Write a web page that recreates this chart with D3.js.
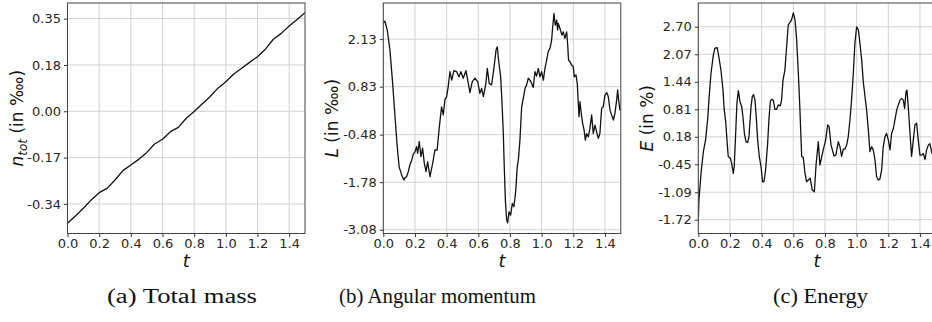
<!DOCTYPE html>
<html>
<head>
<meta charset="utf-8">
<script src="https://cdn.jsdelivr.net/npm/d3@7/dist/d3.min.js"></script>
<style>
  body { margin: 0; background: #fff; }
  svg { display: block; }
  .tick text { font-family: "DejaVu Sans", sans-serif; font-size: 13px; fill: #262626; }
  .axis path, .axis line { stroke: #333; }
  .grid line { stroke: #d2d2d2; stroke-width: 1; }
  .frame { fill: none; stroke: #444; stroke-width: 1; }
  .curve { fill: none; stroke: #111; stroke-width: 1.3; stroke-linejoin: round; }
  .lbl { font-family: "DejaVu Sans", sans-serif; font-size: 17px; fill: #111; }
  .cap { font-family: "Liberation Serif", serif; font-size: 20px; fill: #111; }
</style>
</head>
<body>
<div id="chart"></div>
<script>
// ---- data ----
var xTicks = [0, 0.2, 0.4, 0.6, 0.8, 1.0, 1.2, 1.4];

var tMass = [0, 0.05, 0.1, 0.15, 0.2, 0.25, 0.3, 0.35, 0.4, 0.45, 0.5, 0.55, 0.6, 0.65, 0.7, 0.75,
             0.8, 0.85, 0.9, 0.95, 1.0, 1.05, 1.1, 1.15, 1.2, 1.25, 1.3, 1.35, 1.4, 1.45, 1.5];
var totalMass = [-0.417, -0.390, -0.361, -0.330, -0.303, -0.287, -0.256, -0.221, -0.200, -0.179,
                 -0.154, -0.122, -0.104, -0.076, -0.060, -0.026, -0.001, 0.027, 0.054, 0.086,
                 0.110, 0.139, 0.160, 0.182, 0.203, 0.231, 0.268, 0.290, 0.317, 0.342, 0.367];
var massTicks = [-0.345, -0.1725, 0, 0.1725, 0.345];
var massTickLabels = ['-0.34', '-0.17', '0.00', '0.18', '0.35'];

var tAng = [0, 0.01, 0.025, 0.042, 0.059, 0.074, 0.088, 0.10, 0.116, 0.13, 0.136, 0.147, 0.158, 0.168,
            0.18, 0.189, 0.2, 0.21, 0.217, 0.227, 0.238, 0.248, 0.259, 0.27, 0.28, 0.295, 0.312, 0.326,
            0.34, 0.354, 0.368, 0.379, 0.389, 0.4, 0.41, 0.421, 0.432, 0.446, 0.463, 0.478, 0.49, 0.505,
            0.522, 0.537, 0.547, 0.562, 0.579, 0.596, 0.61, 0.621, 0.632, 0.648, 0.657, 0.669, 0.684,
            0.70, 0.712, 0.72, 0.728, 0.741, 0.749, 0.758, 0.764, 0.771, 0.779, 0.785, 0.794, 0.804,
            0.815, 0.825, 0.836, 0.846, 0.853, 0.863, 0.874, 0.884, 0.895, 0.905, 0.916, 0.926, 0.937,
            0.947, 0.958, 0.968, 0.979, 0.989, 1.0, 1.011, 1.021, 1.032, 1.042, 1.053, 1.063, 1.069,
            1.078, 1.086, 1.095, 1.101, 1.105, 1.116, 1.128, 1.137, 1.147, 1.158, 1.164, 1.17, 1.179,
            1.189, 1.2, 1.206, 1.217, 1.225, 1.236, 1.242, 1.25, 1.259, 1.268, 1.276, 1.284, 1.295,
            1.305, 1.316, 1.326, 1.337, 1.347, 1.358, 1.368, 1.379, 1.389, 1.4, 1.411, 1.421, 1.432,
            1.442, 1.453, 1.463, 1.474, 1.48, 1.486, 1.495, 1.5];
var angMomentum = [2.58, 2.62, 2.38, 1.83, 0.92, 0.01, -0.81, -1.36, -1.58, -1.72, -1.66, -1.63, -1.49,
                   -1.31, -1.17, -1.01, -0.95, -0.81, -0.99, -0.67, -1.08, -0.85, -1.26, -1.49, -1.22,
                   -1.63, -1.26, -0.90, -0.90, -0.26, 0.28, 0.06, 0.47, 0.56, 0.83, 1.24, 1.01, 1.27,
                   1.24, 1.10, 1.24, 1.06, 1.27, 0.92, 0.67, 0.97, 1.06, 0.97, 0.65, 0.78, 0.56, 0.92,
                   1.33, 0.92, 0.88, 1.38, 1.83, 1.92, 1.56, 1.10, 0.47, -0.45, -1.36, -2.27, -2.81,
                   -2.89, -2.59, -2.68, -2.36, -2.45, -2.04, -1.36, -1.17, -0.63, 0.28, 0.51, 0.78, 0.88,
                   1.06, 1.01, 0.92, 0.81, 1.24, 1.12, 1.33, 1.10, 1.24, 1.01, 1.33, 1.56, 1.79, 1.88,
                   2.10, 2.42, 2.83, 2.51, 2.65, 2.38, 2.56, 2.42, 2.24, 2.33, 2.15, 2.33, 2.01, 1.56,
                   1.51, 1.42, 1.38, 1.10, 1.15, 0.92, 0.01, 0.42, 0.10, -0.17, -0.35, -0.63, -0.45,
                   -0.54, -0.31, 0.06, -0.45, -0.22, -0.40, -0.58, -0.45, 0.24, 0.28, 0.60, 0.67, 0.56,
                   0.19, 0.06, -0.08, 0.10, 0.47, 0.74, 0.47, 0.19, 0.19];
var angTicks = [-3.08, -1.78, -0.48, 0.83, 2.13];
var angTickLabels = ['-3.08', '-1.78', '-0.48', '0.83', '2.13'];

var tEnergy = [0, 0.004, 0.017, 0.032, 0.046, 0.059, 0.067, 0.08, 0.095, 0.105, 0.12, 0.131, 0.143,
               0.156, 0.164, 0.173, 0.181, 0.189, 0.202, 0.211, 0.221, 0.227, 0.236, 0.244, 0.253,
               0.263, 0.274, 0.282, 0.291, 0.301, 0.312, 0.32, 0.333, 0.341, 0.349, 0.358, 0.366,
               0.375, 0.385, 0.396, 0.406, 0.415, 0.425, 0.438, 0.446, 0.455, 0.463, 0.474, 0.484,
               0.495, 0.505, 0.518, 0.526, 0.535, 0.547, 0.558, 0.568, 0.579, 0.589, 0.6, 0.611,
               0.621, 0.632, 0.642, 0.653, 0.663, 0.674, 0.684, 0.695, 0.707, 0.72, 0.733, 0.744,
               0.758, 0.768, 0.789, 0.804, 0.817, 0.826, 0.838, 0.857, 0.869, 0.884, 0.895, 0.905,
               0.916, 0.926, 0.937, 0.947, 0.958, 0.968, 0.979, 0.989, 1.0, 1.011, 1.021, 1.032,
               1.042, 1.053, 1.063, 1.074, 1.084, 1.095, 1.105, 1.116, 1.126, 1.137, 1.147, 1.158,
               1.168, 1.179, 1.189, 1.2, 1.211, 1.221, 1.232, 1.242, 1.253, 1.263, 1.274, 1.284,
               1.295, 1.303, 1.312, 1.318, 1.326, 1.337, 1.347, 1.358, 1.368, 1.379, 1.389, 1.4,
               1.411, 1.421, 1.432, 1.442, 1.453, 1.463, 1.476, 1.49, 1.5];
var energy = [-1.73, -1.27, -0.66, -0.16, 0.11, 0.57, 1.02, 1.63, 2.05, 2.21, 2.22, 1.98, 1.71, 1.25,
              0.79, 0.53, 0.11, -0.27, -0.31, -0.43, -0.66, -0.50, 0.26, 0.95, 1.24, 0.99, 0.87, 0.64,
              0.26, 0.07, 0.05, 0.18, 0.87, 1.10, 1.15, 1.02, 0.64, 0.11, -0.27, -0.50, -0.85, -0.85,
              -0.58, 0.03, 0.57, 0.99, 1.04, 1.01, 0.81, 0.81, 0.91, 0.89, 1.02, 1.48, 1.71, 2.25,
              2.74, 2.80, 2.86, 3.02, 2.86, 2.40, 1.63, 0.79, -0.27, -0.29, -0.66, -0.85, -0.81, -0.77,
              -1.04, -1.08, -0.45, 0.07, -0.47, -0.12, 0.10, 0.45, 0.41, 0.00, -0.26, -0.24, 0.07,
              -0.05, -0.27, -0.10, -0.10, -0.01, 0.18, 0.57, 1.02, 1.63, 2.32, 2.70, 2.63, 2.32, 1.94,
              1.44, 1.10, 0.79, 0.34, -0.16, -0.05, -0.12, -0.35, -0.73, -0.81, -0.79, -0.58, -0.05,
              0.18, 0.26, 0.11, -0.12, 0.26, 0.37, 0.57, 0.79, 0.91, 1.02, 1.06, 1.02, 0.83, 1.21,
              1.25, 0.87, 0.26, -0.27, 0.11, 0.45, 0.49, 0.11, -0.24, -0.24, -0.20, -0.34, -0.12,
              -0.01, 0.02, -0.20, -0.10, -0.05];
var energyTicks = [-1.72, -1.09, -0.45, 0.18, 0.81, 1.44, 2.07, 2.70];
var energyTickLabels = ['-1.72', '-1.09', '-0.45', '0.18', '0.81', '1.44', '2.07', '2.70'];

var captions = ['(a) Total mass', '(b) Angular momentum', '(c) Energy'];

// ---- layout ----
var W = 932, H = 322,
    PLOT_TOP = 3, PLOT_BOTTOM = 233.5,
    X_UNIT = 158.33;   // px per unit of t

var panels = [
  { id: 'a', left: 67.5, t: tMass, v: totalMass, yDomain: [-0.455, 0.403],
    yTicks: massTicks, yLabels: massTickLabels, labelX: 17, sym: 'n', sub: 'tot', unit: ' (in \u2031)',
    caption: captions[0], capX: 182, capW: 150 },
  { id: 'b', left: 383.3, t: tAng, v: angMomentum, yDomain: [-3.181, 3.117],
    yTicks: angTicks, yLabels: angTickLabels, labelX: 332, sym: 'L', sub: null, unit: ' (in \u2031)',
    caption: captions[1], capX: 437.5, capW: 197 },
  { id: 'c', left: 698.3, t: tEnergy, v: energy, yDomain: [-2.035, 3.245],
    yTicks: energyTicks, yLabels: energyTickLabels, labelX: 647, sym: 'E', sub: null, unit: ' (in %)',
    caption: captions[2], capX: 820.5, capW: 95 }
];

var svg = d3.select('#chart').append('svg')
    .attr('width', W)
    .attr('height', H);

function drawPanel(p) {
  var right = p.left + 1.5 * X_UNIT,
      x = d3.scaleLinear().domain([0, 1.5]).range([p.left, right]),
      y = d3.scaleLinear().domain(p.yDomain).range([PLOT_BOTTOM, PLOT_TOP]),
      g = svg.append('g').attr('class', 'panel-' + p.id),
      pts = p.t.map(function (t, i) { return [t, p.v[i]]; });

  g.append('clipPath').attr('id', 'clip-' + p.id)
    .append('rect')
    .attr('x', p.left).attr('y', PLOT_TOP)
    .attr('width', right - p.left).attr('height', PLOT_BOTTOM - PLOT_TOP);

  // grid
  g.append('g').attr('class', 'grid')
    .selectAll('line.gx').data(xTicks).enter()
    .append('line')
    .attr('x1', x).attr('x2', x)
    .attr('y1', PLOT_TOP).attr('y2', PLOT_BOTTOM);
  g.append('g').attr('class', 'grid')
    .selectAll('line.gy').data(p.yTicks).enter()
    .append('line')
    .attr('x1', p.left).attr('x2', right)
    .attr('y1', y).attr('y2', y);

  // curve
  g.append('path')
    .datum(pts)
    .attr('class', 'curve')
    .attr('clip-path', 'url(#clip-' + p.id + ')')
    .attr('d', d3.line().x(function (d) { return x(d[0]); }).y(function (d) { return y(d[1]); }));

  // axes
  var xAxis = d3.axisBottom(x).tickValues(xTicks).tickSize(3.5).tickPadding(2)
      .tickFormat(d3.format('.1f'));
  var yAxis = d3.axisLeft(y).tickValues(p.yTicks).tickSize(3.5).tickPadding(3)
      .tickFormat(function (d, i) { return p.yLabels[i]; });

  g.append('g').attr('class', 'axis')
    .attr('transform', 'translate(0,' + PLOT_BOTTOM + ')')
    .call(xAxis)
    .call(function (a) { a.select('.domain').remove(); });
  g.append('g').attr('class', 'axis')
    .attr('transform', 'translate(' + p.left + ',0)')
    .call(yAxis)
    .call(function (a) { a.select('.domain').remove(); });

  g.append('rect').attr('class', 'frame')
    .attr('x', p.left).attr('y', PLOT_TOP)
    .attr('width', right - p.left).attr('height', PLOT_BOTTOM - PLOT_TOP);

  // x label
  g.append('text').attr('class', 'lbl')
    .attr('x', (p.left + p.left + 1.5 * X_UNIT) / 2)
    .attr('y', 267)
    .attr('text-anchor', 'middle')
    .style('font-style', 'italic')
    .style('font-size', '18px')
    .text('t');

  // y label
  var yl = g.append('text').attr('class', 'lbl')
    .attr('transform', 'translate(' + p.labelX + ',' + ((PLOT_TOP + PLOT_BOTTOM) / 2) + ') rotate(-90)')
    .attr('text-anchor', 'middle')
    .attr('dy', '0.35em');
  yl.append('tspan').style('font-style', 'italic').text(p.sym);
  if (p.sub) {
    yl.append('tspan').style('font-style', 'italic').style('font-size', '12px')
      .attr('dy', 4).text(p.sub);
    yl.append('tspan').attr('dy', -4).text(p.unit);
  } else {
    yl.append('tspan').text(p.unit);
  }

  // caption
  svg.append('text').attr('class', 'cap')
    .attr('x', p.capX - p.capW / 2).attr('y', 303)
    .attr('textLength', p.capW)
    .attr('lengthAdjust', 'spacingAndGlyphs')
    .text(p.caption);
}

panels.forEach(drawPanel);
</script>
</body>
</html>
